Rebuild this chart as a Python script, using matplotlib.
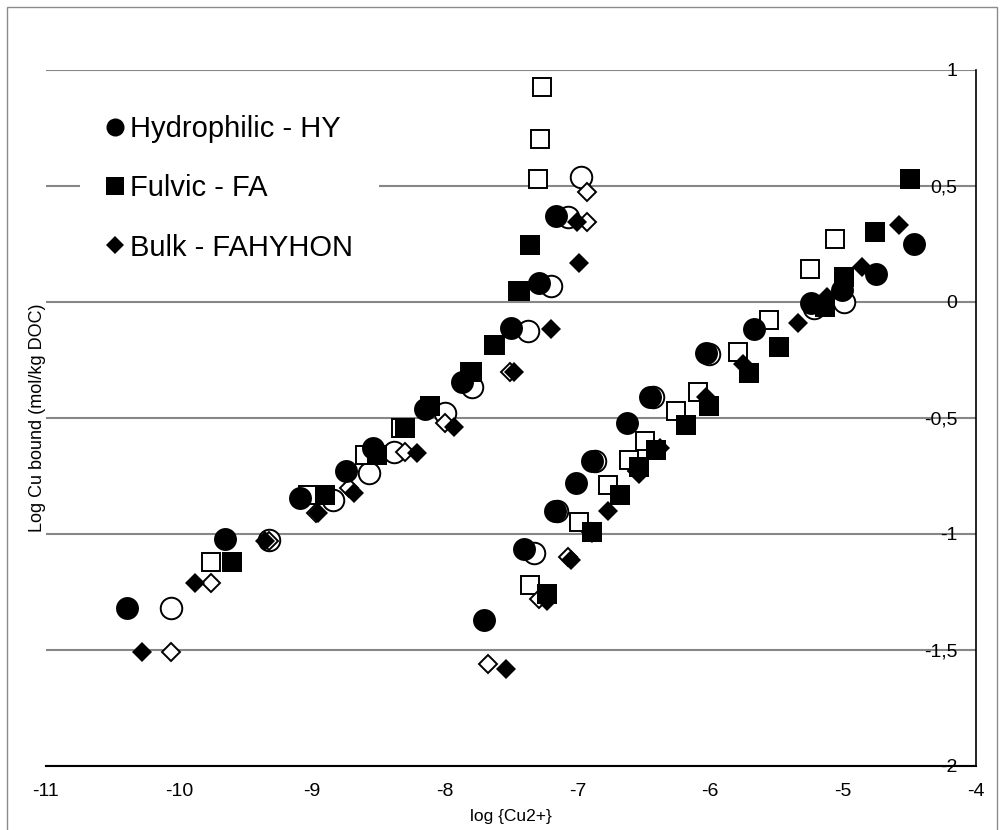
#!/usr/bin/env python3
"""
plot.py - Cu binding on DOM fractions: log Cu bound vs log {Cu2+}.
Filled markers = measured, open markers = second series (no legend entry).
Writes out.png next to the script.
"""
import matplotlib.pyplot as plt
import matplotlib as mpl
from matplotlib.lines import Line2D
from matplotlib.patches import Rectangle
from matplotlib.ticker import FuncFormatter

# ---------------------------------------------------------------------------
# Data -----------------------------------------------------------------------
# ---------------------------------------------------------------------------

# Hydrophilic - HY
hy_x = [-10.39, -9.65, -9.09, -8.74, -8.54, -8.15, -7.87, -7.50, -7.29, -7.16,
        -7.70, -7.40, -7.17, -7.01, -6.89, -6.63, -6.45, -6.03, -5.67, -5.24,
        -5.01, -4.75, -4.47]
hy_y = [-1.32, -1.02, -0.845, -0.73, -0.63, -0.46, -0.345, -0.112, 0.082, 0.371,
        -1.37, -1.065, -0.90, -0.78, -0.685, -0.52, -0.41, -0.22, -0.116, -0.004,
        0.052, 0.121, 0.25]
hy_open_x = [-10.06, -9.32, -8.84, -8.57, -8.38, -8.00, -7.79, -7.37, -7.20, -7.07,
             -6.97, -7.33, -7.15, -6.87, -6.43, -6.01, -5.22, -4.99]
hy_open_y = [-1.32, -1.026, -0.853, -0.737, -0.647, -0.478, -0.366, -0.125, 0.069, 0.366,
             0.539, -1.08, -0.90, -0.685, -0.41, -0.224, -0.026, 0.0]

# Fulvic - FA
fa_x = [-9.60, -8.90, -8.51, -8.30, -8.11, -7.79, -7.63, -7.43, -7.36,
        -7.23, -6.89, -6.68, -6.54, -6.41, -6.18, -6.01, -5.71, -5.48, -5.14,
        -4.99, -4.76, -4.50]
fa_y = [-1.12, -0.83, -0.66, -0.543, -0.448, -0.30, -0.185, 0.047, 0.246,
        -1.26, -0.99, -0.83, -0.71, -0.64, -0.53, -0.45, -0.306, -0.194, -0.02,
        0.108, 0.302, 0.53]
fa_open_x = [-9.76, -9.03, -8.60, -8.33, -7.81, -7.62, -7.45, -7.30, -7.28, -7.27,
             -7.36, -6.99, -6.77, -6.61, -6.49, -6.26, -6.09, -5.79, -5.56, -5.25, -5.06]
fa_open_y = [-1.12, -0.83, -0.66, -0.543, -0.30, -0.185, 0.047, 0.53, 0.703, 0.927,
             -1.22, -0.95, -0.79, -0.68, -0.60, -0.47, -0.39, -0.216, -0.078, 0.142, 0.272]

# Bulk - FAHYHON
bulk_x = [-10.28, -9.88, -9.35, -8.95, -8.68, -8.21, -7.93, -7.48, -7.20, -7.00, -6.99,
          -7.54, -7.23, -7.05, -6.89, -6.77, -6.54, -6.38, -6.03, -5.75, -5.34,
          -5.12, -4.86, -4.58]
bulk_y = [-1.51, -1.21, -1.03, -0.91, -0.823, -0.65, -0.54, -0.30, -0.116, 0.345, 0.168,
          -1.58, -1.29, -1.11, -0.995, -0.90, -0.74, -0.63, -0.41, -0.267, -0.09,
          0.022, 0.151, 0.332]
bulk_open_x = [-10.06, -9.76, -9.32, -8.97, -8.72, -8.30, -8.00, -7.51, -6.93, -6.93,
               -7.67, -7.29, -7.07, -6.90, -6.55]
bulk_open_y = [-1.51, -1.21, -1.03, -0.91, -0.80, -0.647, -0.52, -0.30, 0.345, 0.474,
               -1.56, -1.28, -1.10, -0.99, -0.73]

legend_labels = ["Hydrophilic - HY", "Fulvic - FA", "Bulk - FAHYHON"]
y_ticks = [-2, -1.5, -1, -0.5, 0, 0.5, 1]
x_ticks = [-11, -10, -9, -8, -7, -6, -5, -4]

# ---------------------------------------------------------------------------
# Style ----------------------------------------------------------------------
# ---------------------------------------------------------------------------

mpl.rcParams.update({
    "font.family": ["Liberation Sans", "DejaVu Sans"],
    "axes.unicode_minus": False,
})

GRID = "#878787"

fig = plt.figure(figsize=(10.02, 8.30), dpi=100)
ax = fig.add_axes([46 / 1002, 1 - 766 / 830, (976 - 46) / 1002, (766 - 70) / 830])

# open markers first, filled ones on top
open_kw = dict(ls="none", mfc="white", mec="black", mew=1.4, zorder=3, clip_on=False)
fill_kw = dict(ls="none", color="black", mew=0, zorder=4, clip_on=False)

ax.plot(hy_open_x, hy_open_y, marker="o", ms=15.5, **open_kw)
ax.plot(fa_open_x, fa_open_y, marker="s", ms=12.8, **open_kw)
ax.plot(bulk_open_x, bulk_open_y, marker="D", ms=9.4, **open_kw)

ax.plot(hy_x, hy_y, marker="o", ms=16.5, **fill_kw)
ax.plot(fa_x, fa_y, marker="s", ms=14, **fill_kw)
ax.plot(bulk_x, bulk_y, marker="D", ms=10.2, **fill_kw)

ax.set_xlim(-11, -4)
ax.set_ylim(-2, 1)
ax.set_xticks(x_ticks)
ax.set_yticks(y_ticks)
ax.yaxis.set_major_formatter(FuncFormatter(lambda v, _: f"{v:g}".replace(".", ",")))

ax.yaxis.grid(True, color=GRID, lw=1.5, zorder=0)
ax.set_axisbelow(True)

for side in ("left", "top"):
    ax.spines[side].set_visible(False)
ax.spines["right"].set_color("black")
ax.spines["right"].set_linewidth(1.2)
ax.spines["bottom"].set_color("black")
ax.spines["bottom"].set_linewidth(1.5)

ax.tick_params(axis="x", bottom=False, labelsize=14, pad=9)
ax.tick_params(axis="y", left=False, right=False, labelleft=False, labelright=True,
               labelsize=14, pad=-17)
for lbl in ax.get_yticklabels():
    lbl.set_horizontalalignment("right")

ax.set_xlabel("log {Cu2+}", fontsize=12.5, labelpad=6)
ax.set_ylabel("Log Cu bound (mol/kg DOC)", fontsize=13, labelpad=0)

# ---------------------------------------------------------------------------
# Legend (only filled series) -----------------------------------------------
# ---------------------------------------------------------------------------

handles = [
    Line2D([], [], ls="none", marker="o", color="black", mew=0, ms=13),
    Line2D([], [], ls="none", marker="s", color="black", mew=0, ms=12.5),
    Line2D([], [], ls="none", marker="D", color="black", mew=0, ms=9),
]
leg = ax.legend(handles, legend_labels, loc="upper left",
                bbox_to_anchor=(80 / 1002, 1 - 89 / 830), bbox_transform=fig.transFigure,
                borderaxespad=0, prop={"size": 21}, handlelength=0.6, handletextpad=0.2,
                labelspacing=1.07, borderpad=0.9, frameon=True, fancybox=False)
leg.get_frame().set_facecolor("white")
leg.get_frame().set_edgecolor("none")
leg.get_frame().set_alpha(1)
leg.set_zorder(5)

# chart-area border
fig.patches.append(Rectangle((7 / 1002, -0.01), 990 / 1002, 1 - 7 / 830 + 0.01,
                             transform=fig.transFigure, fill=False,
                             edgecolor="#8c8c8c", lw=1))

fig.savefig("out.png", dpi=100)
